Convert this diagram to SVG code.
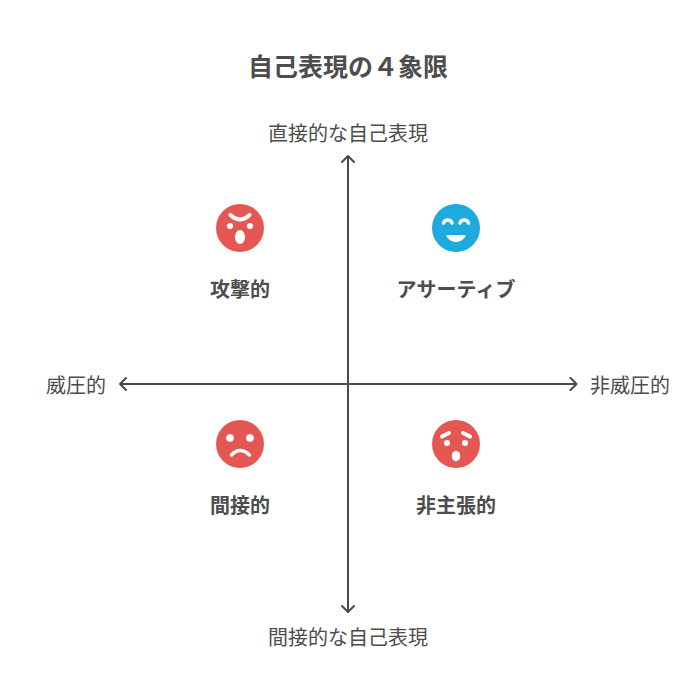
<svg xmlns="http://www.w3.org/2000/svg" width="684" height="696" viewBox="0 0 684 696">
<defs><style>
text{font-family:"Noto Sans CJK JP","Noto Sans",sans-serif;text-anchor:middle;fill:#4d4d4d}
.t{font-size:25px;font-weight:700}
.a{font-size:20px;font-weight:400}
.l{font-size:20px;font-weight:700}
.c{fill:none;stroke:#4a4a4a;stroke-width:2;stroke-linecap:round;stroke-linejoin:round}
.f{fill:#fff}
.s{fill:none;stroke:#fff;stroke-width:3.5;stroke-linecap:round}
.r{fill:#e55753}
.b{fill:#1eaadc}
</style></defs>
<rect width="684" height="696" fill="#fff"/>
<text class="t" x="348" y="76">自己表現の４象限</text>
<g id="connectors">
<path class="c" d="M348 612V156M342 162L348 156L354 162"/>
<path class="c" d="M348 612L342 606M348 612L354 606"/>
<path class="c" d="M120 384H576.500M126 378L120 384L126 390M570.500 378L576.500 384L570.500 390"/>
</g>
<g id="axis-top"><text class="a" x="348" y="141">直接的な自己表現</text></g>
<g id="axis-bottom"><text class="a" x="348" y="645">間接的な自己表現</text></g>
<g id="axis-left"><text class="a" x="76" y="393">威圧的</text></g>
<g id="axis-right"><text class="a" x="630" y="393">非威圧的</text></g>
<g id="aggressive">
<circle class="r" cx="240" cy="228" r="24"/>
<path class="s" d="M230.500 215Q240 224 249.500 215" style="stroke-width:4"/>
<circle class="f" cx="230" cy="226" r="3"/><circle class="f" cx="250" cy="226" r="3"/>
<ellipse class="f" cx="240" cy="237" rx="5" ry="7"/>
<text class="l" x="240" y="297">攻撃的</text>
</g>
<g id="assertive">
<circle class="b" cx="456" cy="228" r="24"/>
<path class="s" d="M443.500 223A4.500 4.500 0 0 1 452 223M460 223A4.500 4.500 0 0 1 468.500 223"/>
<path class="f" d="M446 235H466Q463 242 456 242Q449 242 446 235Z"/>
<text class="l" x="456" y="297">アサーティブ</text>
</g>
<g id="passive">
<circle class="r" cx="240" cy="444" r="24"/>
<circle class="f" cx="230" cy="438" r="3.800"/><circle class="f" cx="250" cy="438" r="3.800"/>
<path class="s" d="M231.500 455Q240 446 249.500 455"/>
<text class="l" x="240" y="513">間接的</text>
</g>
<g id="non-assertive">
<circle class="r" cx="456" cy="444" r="24"/>
<path class="s" d="M442 436.500L449 433M463 433L470 436.500" style="stroke-width:4"/>
<circle class="f" cx="447" cy="443" r="3"/><circle class="f" cx="465" cy="443" r="3"/>
<ellipse class="f" cx="456" cy="456" rx="4.200" ry="5.200"/>
<text class="l" x="456" y="513">非主張的</text>
</g>
</svg>
